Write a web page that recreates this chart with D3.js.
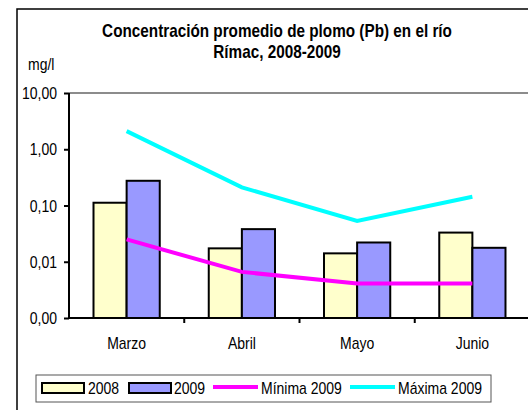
<!DOCTYPE html>
<html>
<head>
<meta charset="utf-8">
<script src="https://cdn.jsdelivr.net/npm/d3@7"></script>
<style>
  body { margin: 0; background: #fff; }
  text { font-family: "Liberation Sans", Arial, sans-serif; fill: #000; }
</style>
</head>
<body>
<div id="chart"></div>
<script>
var months = ["Marzo", "Abril", "Mayo", "Junio"];
var years = ["2008", "2009"];
var bars2008 = [0.112, 0.0173, 0.0141, 0.033];
var bars2009 = [0.275, 0.038, 0.022, 0.0177];
var minima2009 = [0.025, 0.0066, 0.0041, 0.0041];
var maxima2009 = [2.1, 0.21, 0.053, 0.143];
var yTicks = [0.001, 0.01, 0.1, 1, 10];

var stretch = 1.15; // glyphs in the original are a little taller than Arial

var svg = d3.select("#chart")
	.append("svg")
	.attr("width", 528)
	.attr("height", 410);

// text placed with its baseline at (tx, ty), stretched vertically
function label(parent, tx, ty, size, str, anchor, weight) {
	return parent.append("text")
		.attr("transform", "translate(" + tx + "," + ty + ") scale(1," + stretch + ")")
		.attr("text-anchor", anchor || "start")
		.attr("font-size", size)
		.attr("font-weight", weight || "normal")
		.text(str);
}

// outer chart frame (runs off the right and bottom edge)
svg.append("rect")
	.attr("x", 17).attr("y", 9)
	.attr("width", 600).attr("height", 500)
	.attr("fill", "none")
	.attr("stroke", "#000")
	.attr("stroke-width", 1.5);

var x = d3.scaleBand().domain(months).range([69, 530]).paddingInner(0).paddingOuter(0);
var x1 = d3.scaleBand().domain(years).range([0, x.bandwidth()]).paddingInner(0).paddingOuter(0.74);
var y = d3.scaleLog().domain([0.001, 10]).range([318, 93]);

var fmt = function(d) { return d3.format(".2f")(d).replace(".", ","); };

// top border of plot area
svg.append("line")
	.attr("x1", 69).attr("x2", 530)
	.attr("y1", y(10)).attr("y2", y(10))
	.attr("stroke", "#8c8c8c")
	.attr("stroke-width", 2);

// bars
var rows = months.map(function(m, i) { return { month: m, vals: [bars2008[i], bars2009[i]] }; });
var colors = { "2008": "#ffffcc", "2009": "#9999ff" };

var groups = svg.selectAll(".grp")
	.data(rows)
	.enter().append("g")
	.attr("transform", function(d) { return "translate(" + x(d.month) + ",0)"; });

groups.selectAll("rect")
	.data(function(d) { return years.map(function(yr, j) { return { yr: yr, v: d.vals[j] }; }); })
	.enter().append("rect")
	.attr("x", function(d) { return x1(d.yr); })
	.attr("width", x1.bandwidth())
	.attr("y", function(d) { return y(d.v); })
	.attr("height", function(d) { return y(0.001) - y(d.v); })
	.attr("fill", function(d) { return colors[d.yr]; })
	.attr("stroke", "#000")
	.attr("stroke-width", 2);

// axes
var yAxis = svg.append("g")
	.attr("transform", "translate(69,0)")
	.call(d3.axisLeft(y).tickValues(yTicks).tickFormat(fmt).tickSize(5).tickPadding(7));
yAxis.attr("font-family", null).attr("font-size", 14);
yAxis.select(".domain").attr("stroke-width", 2).attr("d", "M0," + y(10) + "V" + y(0.001));
yAxis.selectAll(".tick line").attr("stroke-width", 2);
yAxis.selectAll(".tick text")
	.attr("x", null).attr("dy", null)
	.attr("transform", "translate(-12,5.5) scale(1," + stretch + ")");

var xAxis = svg.append("g")
	.attr("transform", "translate(0,318)")
	.call(d3.axisBottom(x).tickSize(0).tickPadding(0).tickFormat(""));
xAxis.select(".domain").attr("stroke-width", 2).attr("d", "M69,0H530");
xAxis.selectAll(".sep")
	.data(months.slice(1))
	.enter().append("line")
	.attr("x1", function(d) { return x(d); }).attr("x2", function(d) { return x(d); })
	.attr("y1", 0).attr("y2", 5)
	.attr("stroke", "#000").attr("stroke-width", 2);

months.forEach(function(m) {
	label(svg, x(m) + x.bandwidth() / 2, 349, 14, m, "middle");
});

// lines
var line = function(vals) {
	return d3.line()
		.x(function(d, i) { return x(months[i]) + x.bandwidth() / 2; })
		.y(function(d) { return y(d); })(vals);
};
svg.append("path").attr("d", line(maxima2009))
	.attr("fill", "none").attr("stroke", "#00ffff").attr("stroke-width", 4);
svg.append("path").attr("d", line(minima2009))
	.attr("fill", "none").attr("stroke", "#ff00ff").attr("stroke-width", 4);

// titles
label(svg, 277, 37, 15.3, "Concentración promedio de plomo (Pb) en el río", "middle", "bold");
label(svg, 277, 58, 15.3, "Rímac, 2008-2009", "middle", "bold");
label(svg, 28, 70, 14, "mg/l");

// legend
var legend = svg.append("g");
legend.append("rect")
	.attr("x", 36).attr("y", 375).attr("width", 455).attr("height", 27)
	.attr("fill", "#fff").attr("stroke", "#555").attr("stroke-width", 1);
var legItems = [
	{ label: "2008", type: "box", color: colors["2008"], x0: 42, x1: 84, tx: 88 },
	{ label: "2009", type: "box", color: colors["2009"], x0: 129, x1: 171, tx: 174 },
	{ label: "Mínima 2009", type: "line", color: "#ff00ff", x0: 213, x1: 258, tx: 261 },
	{ label: "Máxima 2009", type: "line", color: "#00ffff", x0: 350, x1: 395, tx: 398 }
];
legItems.forEach(function(it) {
	if (it.type === "box") {
		legend.append("rect")
			.attr("x", it.x0).attr("y", 383).attr("width", it.x1 - it.x0).attr("height", 10)
			.attr("fill", it.color).attr("stroke", "#000").attr("stroke-width", 2);
	} else {
		legend.append("line")
			.attr("x1", it.x0).attr("x2", it.x1).attr("y1", 387).attr("y2", 387)
			.attr("stroke", it.color).attr("stroke-width", 4);
	}
	label(legend, it.tx, 394, 14, it.label);
});
</script>
</body>
</html>
